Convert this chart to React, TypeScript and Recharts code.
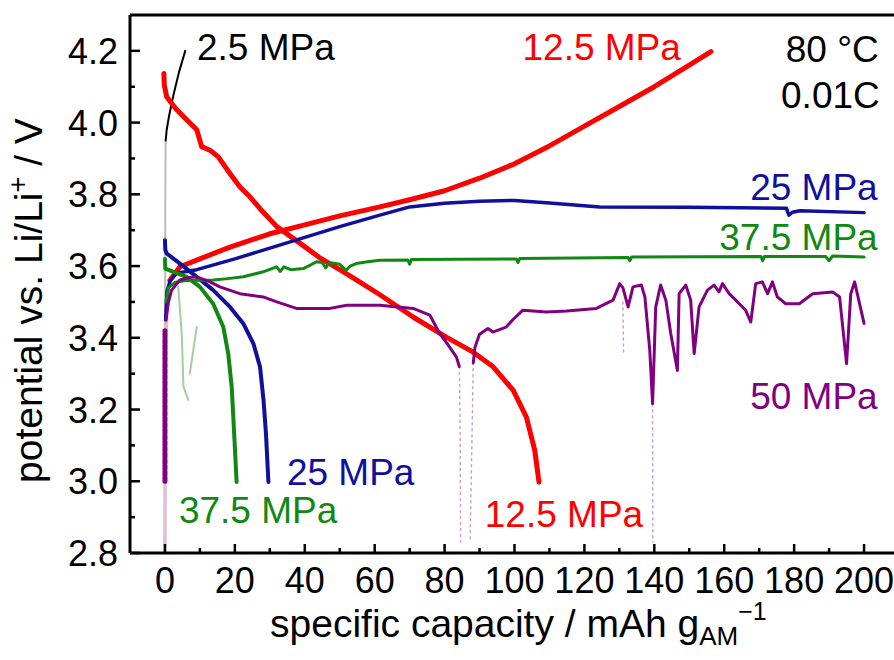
import { LineChart, Line, XAxis, YAxis, ReferenceDot, ReferenceLine } from 'recharts'

type Pt = [number, number | null]

const FONT = '"Liberation Sans", Arial, Helvetica, sans-serif'

// axis ticks
const xTicks = [0, 10, 20, 30, 40, 50, 60, 70, 80, 90, 100, 110, 120, 130, 140, 150, 160, 170, 180, 190, 200]
const yTicks = [2.8, 2.9, 3.0, 3.1, 3.2, 3.3, 3.4, 3.5, 3.6, 3.7, 3.8, 3.9, 4.0, 4.1, 4.2]

// 2.5 MPa (charge only)
const p25Faint: Pt[] = [[0, 2.8], [0.05, 3.4], [0.1, 3.8], [0.2, 3.95]]
const p25Charge: Pt[] = [[0.2, 3.95], [0.5, 3.98], [1.2, 4.02], [2.5, 4.08], [4, 4.14], [5.8, 4.2]]

// 12.5 MPa
const p125Faint: Pt[] = [[0, 2.82], [0.1, 3.1], [0.3, 3.35], [0.6, 3.5], [1.4, 3.56]]
const p125Charge: Pt[] = [
  [1.4, 3.56], [4.3, 3.598], [10, 3.62], [18.6, 3.653], [30, 3.69], [40, 3.715], [50, 3.74],
  [61.5, 3.765], [70, 3.785], [80, 3.81], [90, 3.845], [100, 3.885], [110, 3.935], [120, 3.99],
  [130, 4.045], [140, 4.1], [150, 4.16], [156.2, 4.198],
]
const p125Discharge: Pt[] = [
  [-0.3, 4.137], [-0.2, 4.105], [0.5, 4.072], [3, 4.04], [6, 4.01], [9.1, 3.98], [10.5, 3.933],
  [12.9, 3.923], [15.2, 3.905], [18.6, 3.858], [21.4, 3.821], [24.3, 3.793], [27.2, 3.76],
  [32, 3.71], [38.6, 3.664], [44, 3.625], [50, 3.59], [55, 3.56], [61.5, 3.52], [71, 3.458],
  [80.5, 3.402], [88.2, 3.36], [93.9, 3.319], [99.6, 3.254], [103.4, 3.179], [105.8, 3.086], [107, 2.998],
]

// 25 MPa
const p250Charge: Pt[] = [
  [0.2, 3.45], [0.6, 3.53], [1.5, 3.56], [3.3, 3.58], [9.1, 3.59], [20, 3.62], [30, 3.65],
  [40, 3.68], [50, 3.71], [61.5, 3.742], [70, 3.765], [80, 3.775], [90, 3.781], [100, 3.783],
  [110, 3.776], [124.4, 3.765], [150, 3.764], [177.8, 3.761], [178.5, 3.742], [179.5, 3.75],
  [181.6, 3.754], [200, 3.749],
]
const p250Discharge: Pt[] = [
  [0, 3.672], [0.1, 3.645], [0.5, 3.635], [4.3, 3.607], [9.1, 3.57], [13.8, 3.533], [18.6, 3.486],
  [22.4, 3.44], [25.3, 3.384], [27.2, 3.319], [28.2, 3.226], [28.9, 3.133], [29.6, 2.998],
]

// 37.5 MPa
const p375Charge: Pt[] = [
  [0.3, 3.5], [1, 3.54], [3, 3.555], [6, 3.56], [13.8, 3.561], [18, 3.565], [22.4, 3.57],
  [28.1, 3.584], [31.9, 3.598], [33, 3.585], [34, 3.598], [36, 3.59], [39.6, 3.593], [41, 3.6],
  [43.4, 3.612], [45, 3.61], [46, 3.595], [47, 3.61], [50, 3.605], [51.8, 3.588], [53, 3.6],
  [54.7, 3.607], [58, 3.612], [61.5, 3.616], [69.5, 3.617], [70, 3.605], [70.5, 3.618],
  [100.5, 3.62], [101, 3.61], [101.5, 3.621], [132.5, 3.624], [133, 3.615], [133.5, 3.625],
  [170.5, 3.627], [171, 3.615], [171.5, 3.627], [189, 3.627], [190, 3.615], [191, 3.628], [200, 3.625],
]
const p375Discharge: Pt[] = [
  [0, 3.62], [0.1, 3.593], [2.4, 3.584], [6.2, 3.57], [10, 3.542], [13.8, 3.495], [16.7, 3.43],
  [18.1, 3.356], [19.1, 3.263], [19.7, 3.151], [20.5, 2.998],
]
const p375Noise: Pt[] = [
  [3.8, 3.542], [4.8, 3.412], [5.3, 3.263], [6.7, 3.226], [6.9, null], [7.1, 3.3], [9.1, 3.43],
]

// 50 MPa
const p50Column: Pt[] = [[0, 3.0], [0, 3.42]]
const p50ColumnFaint: Pt[] = [[0, 2.8], [0, 3.0]]
const p50Charge: Pt[] = [
  [0.3, 3.45], [1, 3.5], [1.9, 3.533], [4.3, 3.561], [7, 3.568], [9.1, 3.57], [12.9, 3.556],
  [15.7, 3.542], [21.4, 3.523], [28.1, 3.514], [32, 3.5], [37.6, 3.482], [47.2, 3.482], [52, 3.491],
  [61.5, 3.491], [71, 3.482], [75.8, 3.463], [78.6, 3.412], [81, 3.38], [83.4, 3.346], [84.2, 3.32],
  [86, null],
  [88.2, 3.33], [88.7, 3.374], [90, 3.41], [92.4, 3.426], [93.8, 3.416], [97.6, 3.43], [100, 3.455],
  [102.4, 3.477], [109.1, 3.472], [115, 3.475], [123.4, 3.482], [128.2, 3.505], [130.1, 3.551],
  [131, 3.54], [132.5, 3.486], [133.9, 3.542], [136.3, 3.547], [137.3, 3.514], [138.7, 3.365],
  [139.5, 3.216], [140.4, 3.486], [141.8, 3.547], [143.3, 3.505], [144.7, 3.412], [146.6, 3.309],
  [147.1, 3.523], [149, 3.547], [150.4, 3.505], [151.4, 3.356], [152.8, 3.486], [155.2, 3.533],
  [157.1, 3.547], [158.5, 3.528], [159.5, 3.551], [161.4, 3.523], [163.3, 3.505], [166.1, 3.477],
  [167.6, 3.444], [169, 3.551], [170.9, 3.556], [172.4, 3.523], [173.8, 3.556], [175.2, 3.514],
  [177.6, 3.495], [181.5, 3.495], [185.3, 3.523], [191, 3.528], [193, 3.514], [195, 3.328],
  [196.2, 3.523], [197.3, 3.556], [200, 3.44],
]
const p50Spikes: Pt[] = [
  [84.2, 3.32], [84.4, 3.2], [84.6, 2.83], [85, null], [87.3, 2.84], [87.8, 3.1], [88.2, 3.33], [88.5, null],
  [131, 3.5], [131.2, 3.36], [131.5, null], [139.5, 3.216], [139.6, 2.83],
]

// pressure / condition labels (data coordinates of the text baseline)
const tags = [
  { text: '2.5 MPa', x: 9.15, v: 4.174, color: '#000000', anchor: 'start' },
  { text: '12.5 MPa', x: 147.6, v: 4.174, color: '#ff0000', anchor: 'end' },
  { text: '80 °C', x: 204.2, v: 4.168, color: '#000000', anchor: 'end' },
  { text: '0.01C', x: 204.5, v: 4.04, color: '#000000', anchor: 'end' },
  { text: '25 MPa', x: 203.9, v: 3.784, color: '#10109c', anchor: 'end' },
  { text: '37.5 MPa', x: 203.9, v: 3.645, color: '#118811', anchor: 'end' },
  { text: '50 MPa', x: 203.9, v: 3.201, color: '#800080', anchor: 'end' },
  { text: '25 MPa', x: 34.9, v: 2.99, color: '#10109c', anchor: 'start' },
  { text: '37.5 MPa', x: 4.0, v: 2.884, color: '#118811', anchor: 'start' },
  { text: '12.5 MPa', x: 91.5, v: 2.872, color: '#ff0000', anchor: 'start' },
]

const pts = (a: Pt[]) => a.map(([x, v]) => ({ x, v }))

function XTick(props: any) {
  const { x, y, payload } = props
  const val = payload.value
  const major = Math.round(val) % 20 === 0
  return (
    <g>
      <line x1={x} y1={y} x2={x} y2={y - (major ? 9 : 5)} stroke="#000" strokeWidth={2.5} />
      {major && (
        <text x={x} y={y + 40} textAnchor="middle" fontSize={36} fill="#000" fontFamily={FONT}>
          {val}
        </text>
      )}
    </g>
  )
}

function YTick(props: any) {
  const { x, y, payload } = props
  const val = payload.value
  const major = Math.round(val * 10) % 2 === 0
  return (
    <g>
      <line x1={x} y1={y} x2={x + (major ? 10 : 5)} y2={y} stroke="#000" strokeWidth={2.5} />
      {major && (
        <text x={x - 12} y={y + 13} textAnchor="end" fontSize={36} fill="#000" fontFamily={FONT}>
          {val.toFixed(1)}
        </text>
      )}
    </g>
  )
}

function XTitle(props: any) {
  const vb = props.viewBox || { x: 130, y: 553 }
  return (
    <text x={vb.x + 140} y={vb.y + 84} fontSize={39} fill="#000" fontFamily={FONT}>
      specific capacity / mAh g
      <tspan fontSize={26} dy={8}>AM</tspan>
      <tspan fontSize={25} dy={-25}>−1</tspan>
    </text>
  )
}

function YTitle(props: any) {
  const vb = props.viewBox || { x: 0, y: 15, width: 130, height: 538 }
  const x = vb.x + 42
  const y = vb.y + 468
  return (
    <text x={x} y={y} transform={`rotate(-90, ${x}, ${y})`} fontSize={39} fill="#000" fontFamily={FONT}>
      potential vs. Li/Li
      <tspan fontSize={27} dy={-15}>+</tspan>
      <tspan dy={15}> / V</tspan>
    </text>
  )
}

function Tag(props: any) {
  const vb = props.viewBox || { x: props.cx, y: props.cy }
  return (
    <text x={vb.x} y={vb.y} textAnchor={props.anchor} fill={props.color} fontSize={37} fontFamily={FONT}>
      {props.text}
    </text>
  )
}

const lineProps = {
  dataKey: 'v',
  dot: false,
  activeDot: false,
  isAnimationActive: false,
  strokeLinejoin: 'round' as const,
  strokeLinecap: 'round' as const,
  connectNulls: false,
}

export default function App() {
  return (
    <div style={{ position: 'absolute', left: 0, top: 0, width: 894, height: 660, overflow: 'hidden', background: '#fff' }}>
      <LineChart width={900} height={660} margin={{ top: 15, right: 1, left: 0, bottom: 0 }}>
        <XAxis
          dataKey="x"
          type="number"
          domain={[-10, 210]}
          allowDataOverflow
          ticks={xTicks}
          interval={0}
          height={107}
          tickSize={0}
          tickMargin={0}
          tickLine={false}
          tick={<XTick />}
          axisLine={{ stroke: '#000', strokeWidth: 3 }}
          label={<XTitle />}
        />
        <YAxis
          type="number"
          domain={[2.8, 4.3]}
          allowDataOverflow
          ticks={yTicks}
          interval={0}
          width={130}
          tickSize={0}
          tickMargin={0}
          tickLine={false}
          tick={<YTick />}
          axisLine={{ stroke: '#000', strokeWidth: 3 }}
          label={<YTitle />}
        />
        {/* top edge of the frame */}
        <ReferenceLine y={4.3} stroke="#000" strokeWidth={3} ifOverflow="visible" />

        <Line data={pts(p25Faint)} {...lineProps} stroke="#bbbbbb" strokeWidth={2} />
        <Line data={pts(p25Charge)} {...lineProps} stroke="#000000" strokeWidth={2} />

        <Line data={pts(p125Faint)} {...lineProps} stroke="#ffb0b0" strokeWidth={3} />
        <Line data={pts(p125Charge)} {...lineProps} stroke="#ff0000" strokeWidth={5} />
        <Line data={pts(p125Discharge)} {...lineProps} stroke="#ff0000" strokeWidth={5} />

        <Line data={pts(p250Charge)} {...lineProps} stroke="#10109c" strokeWidth={3.5} />
        <Line data={pts(p250Discharge)} {...lineProps} stroke="#10109c" strokeWidth={4} />

        <Line data={pts(p375Noise)} {...lineProps} stroke="#118811" strokeOpacity={0.4} strokeWidth={2} />
        <Line data={pts(p375Charge)} {...lineProps} stroke="#118811" strokeWidth={3} />
        <Line data={pts(p375Discharge)} {...lineProps} stroke="#118811" strokeWidth={4} />

        <Line data={pts(p50ColumnFaint)} {...lineProps} stroke="#d9c0dd" strokeWidth={3} />
        <Line data={pts(p50Column)} {...lineProps} stroke="#800080" strokeWidth={5} strokeDasharray="4 2" />
        <Line data={pts(p50Spikes)} {...lineProps} stroke="#c8a0d0" strokeWidth={1.5} strokeDasharray="2 4" />
        <Line data={pts(p50Charge)} {...lineProps} stroke="#800080" strokeWidth={3} />

        {tags.map((t, i) => (
          <ReferenceDot
            key={i}
            x={t.x}
            y={t.v}
            r={0}
            fill="none"
            stroke="none"
            ifOverflow="visible"
            label={<Tag text={t.text} color={t.color} anchor={t.anchor} />}
          />
        ))}
      </LineChart>
    </div>
  )
}
